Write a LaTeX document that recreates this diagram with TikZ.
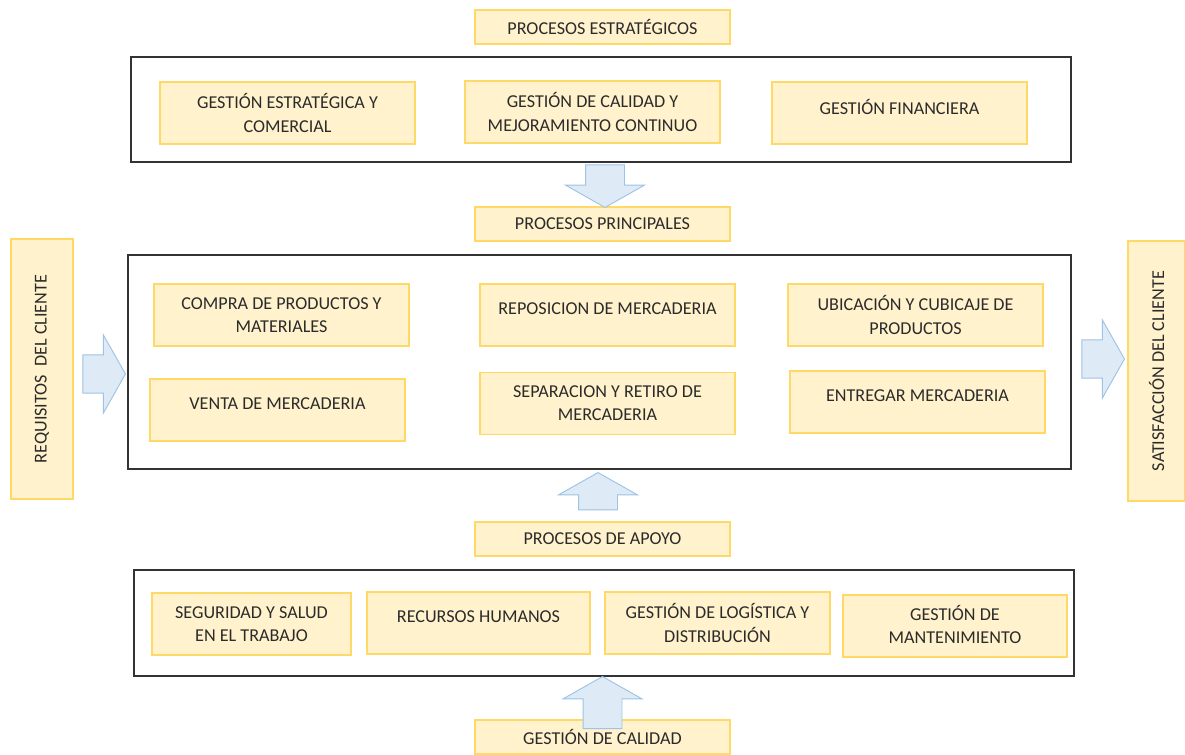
\documentclass[tikz,border=0pt]{standalone}
\usepackage{fontspec}
\setmainfont{Carlito}
\usepackage{xcolor}
\usetikzlibrary{shapes.arrows,positioning}

\definecolor{boxfill}{HTML}{FFF2CC}
\definecolor{boxline}{HTML}{FFD966}
\definecolor{arrfill}{HTML}{DEEBF7}
\definecolor{arrline}{HTML}{9DC3E6}
\definecolor{txt}{HTML}{2B2B2B}

\begin{document}
\begin{tikzpicture}[
			x=0.75pt, y=-0.75pt,
			every node/.style={font=\fontsize{13.6}{17.3}\selectfont, text=txt},
			boxsize/.style 2 args={minimum width=#1*0.75pt, minimum height=#2*0.75pt},
			process/.style={rectangle, draw=boxline, fill=boxfill, line width=0.9pt, align=center, inner sep=2pt},
			oneline/.style={text depth=9pt},
			header/.style={process, boxsize={255}{34}},
			group/.style={rectangle, draw=black!80, line width=0.9pt},
			side/.style={process, rotate=90},
			blockarrow/.style={single arrow, draw=arrline, fill=arrfill, line width=0.7pt, anchor=tip,
				inner xsep=0pt, inner ysep=14.25pt, single arrow head extend=15pt, single arrow tip angle=121}
			]
			\useasboundingbox (0,0) rectangle (1185,754);

			% grupos
			\node (G1) [group, boxsize={940}{105}] at (601,109.5) {};
			\node (G2) [group, boxsize={943}{214}] at (599.5,362) {};
			\node (G3) [group, boxsize={940}{106}] at (604,623) {};

			% titulos
			\node (EST) [header] at (602.5,27) {PROCESOS ESTRATÉGICOS};
			\node (PRI) [header] at (602.5,224) {PROCESOS PRINCIPALES};
			\node (APO) [header] at (602.5,539) {PROCESOS DE APOYO};
			\node (CAL) [header] at (602.5,737) {GESTIÓN DE CALIDAD};

			% procesos estrategicos
			\node (E1) [process, boxsize={255}{62}] at (287.5,113) {GESTIÓN ESTRATÉGICA Y\\COMERCIAL};
			\node (E2) [process, boxsize={255}{62}] at (592.5,112) {GESTIÓN DE CALIDAD Y\\MEJORAMIENTO CONTINUO};
			\node (E3) [process, oneline, boxsize={255}{62}] at (899.5,113) {GESTIÓN FINANCIERA};

			% procesos principales
			\node (P1) [process, boxsize={255}{62}] at (281.5,315) {COMPRA DE PRODUCTOS Y\\MATERIALES};
			\node (P2) [process, oneline, boxsize={255}{62}] at (607.5,315) {REPOSICION DE MERCADERIA};
			\node (P3) [process, boxsize={255}{62}] at (915.5,315) {UBICACIÓN Y CUBICAJE DE\\PRODUCTOS};
			\node (P4) [process, oneline, boxsize={255}{62}] at (277.5,410) {VENTA DE MERCADERIA};
			\node (P5) [process, boxsize={255}{62}] at (607.5,403.5) {SEPARACION Y RETIRO DE\\MERCADERIA};
			\node (P6) [process, oneline, boxsize={255}{62}] at (917.5,402) {ENTREGAR MERCADERIA};

			% procesos de apoyo
			\node (S1) [process, boxsize={199}{62}] at (251.5,624) {SEGURIDAD Y SALUD\\EN EL TRABAJO};
			\node (S2) [process, oneline, boxsize={223}{62}] at (478.5,623) {RECURSOS HUMANOS};
			\node (S3) [process, boxsize={225}{62}] at (717.5,623) {GESTIÓN DE LOGÍSTICA Y\\DISTRIBUCIÓN};
			\node (S4) [process, text depth=3pt, boxsize={224}{62}] at (955,626) {GESTIÓN DE\\MANTENIMIENTO};

			% cliente
			\node (REQ) [side, boxsize={260}{62}] at (42,369) {REQUISITOS\ \ DEL CLIENTE};
			\node (SAT) [side, boxsize={260}{57}] at (1156.5,371) {SATISFACCIÓN DEL CLIENTE};

			% flechas
			\node (A1) [blockarrow, rotate=-90, minimum height=32pt] at (605,208) {};
			\node (A2) [blockarrow, rotate=90, minimum height=28pt] at (598,472) {};
			\node (A3) [blockarrow, rotate=90, minimum height=39pt] at (602.5,676) {};
			\node (A4) [blockarrow, minimum height=32pt, inner ysep=14pt] at (126,374) {};
			\node (A5) [blockarrow, minimum height=32pt, inner ysep=14pt] at (1125,359) {};

		\end{tikzpicture}
\end{document}
